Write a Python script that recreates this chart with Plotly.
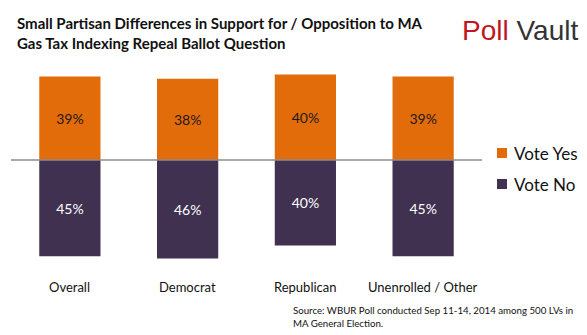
import plotly.graph_objects as go

# Survey results by party registration
categories = ["Overall", "Democrat", "Republican", "Unenrolled / Other"]
vote_yes = [39, 38, 40, 39]
vote_no = [45, 46, 40, 45]
series_names = ["Vote Yes", "Vote No"]

ORANGE = "#E36C0A"
PURPLE = "#403151"
FONT = "Lato"

W, H = 587, 335
ML, MR, MT, MB = 11, 105, 70, 70
PW, PH = W - ML - MR, H - MT - MB


def px(x):
    """Pixel x position -> paper coordinate."""
    return (x - ML) / PW


def py(y):
    """Pixel y position (from top) -> paper coordinate."""
    return (H - MB - y) / PH


fig = go.Figure()
fig.add_trace(go.Bar(
    x=categories, y=vote_yes, name=series_names[0],
    marker=dict(color=ORANGE, line=dict(width=0)),
    text=[f"{v}%" for v in vote_yes], textposition="inside",
    insidetextanchor="middle",
    textfont=dict(color="#1a1a1a", size=14, family=FONT),
))
fig.add_trace(go.Bar(
    x=categories, y=[-v for v in vote_no], name=series_names[1],
    marker=dict(color=PURPLE, line=dict(width=0)),
    text=[f"{v}%" for v in vote_no], textposition="inside",
    insidetextanchor="middle",
    textfont=dict(color="white", size=14, family=FONT),
))

# category labels below the bars
for c in categories:
    fig.add_annotation(x=c, xref="x", y=py(287), yref="paper", text=c,
                       showarrow=False, yanchor="middle",
                       font=dict(size=13, color="#111", family=FONT))

# baseline
fig.add_shape(type="line", xref="x", yref="y", x0=-0.5, x1=3.5, y0=0, y1=0,
              line=dict(color="#8c8c8c", width=1.5))

# title
fig.add_annotation(
    x=px(15), xref="paper", y=py(33), yref="paper",
    text="<b>Small Partisan Differences in Support for / Opposition to MA<br>Gas Tax Indexing Repeal Ballot Question</b>",
    showarrow=False, xanchor="left", yanchor="middle", align="left",
    font=dict(size=15, color="#111", family=FONT),
)
# logo text
fig.add_annotation(
    x=px(460), xref="paper", y=py(30), yref="paper",
    text="<span style='color:#C0171F'>Poll</span> <span style='color:#333333'>Vault</span>",
    showarrow=False, xanchor="left", yanchor="middle",
    font=dict(size=28, family="Liberation Sans"),
)
# source note
fig.add_annotation(
    x=px(291), xref="paper", y=py(316), yref="paper",
    text="Source: WBUR Poll conducted Sep 11-14, 2014 among 500 LVs in<br>MA General Election.",
    showarrow=False, xanchor="left", yanchor="middle", align="left",
    font=dict(size=9.7, color="#111", family=FONT),
)

# legend: coloured squares with labels
for name, color, yc in [(series_names[0], ORANGE, 153), (series_names[1], PURPLE, 184)]:
    fig.add_shape(type="rect", xref="paper", yref="paper",
                  x0=px(497), x1=px(507), y0=py(yc + 5), y1=py(yc - 5),
                  fillcolor=color, line=dict(width=0))
    fig.add_annotation(x=px(512), xref="paper", y=py(yc), yref="paper",
                       text=name, showarrow=False, xanchor="left", yanchor="middle",
                       font=dict(size=17, color="#111", family=FONT))

fig.update_layout(
    width=W, height=H,
    margin=dict(l=ML, r=MR, t=MT, b=MB),
    paper_bgcolor="white", plot_bgcolor="white",
    barmode="relative", bargap=0.48,
    showlegend=False,
    xaxis=dict(range=[-0.5, 3.5], showticklabels=False, showgrid=False,
               zeroline=False, showline=False, ticks=""),
    yaxis=dict(range=[-49.07, 42.06], showticklabels=False, showgrid=False,
               zeroline=False, showline=False, ticks=""),
)

fig.write_html("out.html")
